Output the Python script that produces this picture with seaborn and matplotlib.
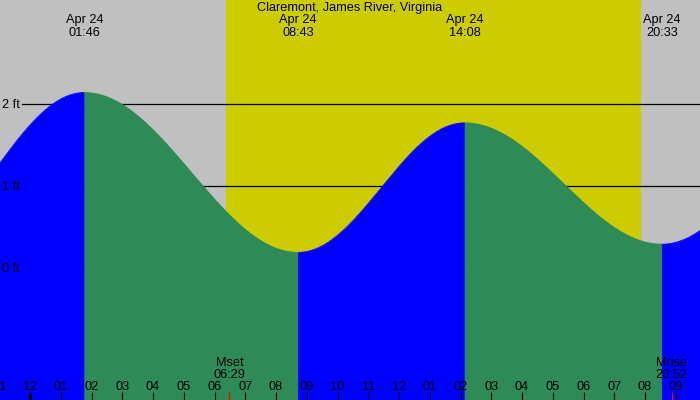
import numpy as np
import pandas as pd
import matplotlib
matplotlib.use("Agg")
import matplotlib.pyplot as plt
import seaborn as sns
from matplotlib.transforms import blended_transform_factory, offset_copy

# ---------------- data ----------------
title = "Claremont, James River, Virginia"
# tide extremes, hours relative to Apr 24 00:00 (first/last are off-chart neighbours)
tide_times = [-4.17, 1.767, 8.717, 14.133, 20.55, 26.5]
tide_heights = [0.19, 2.14, 0.19, 1.77, 0.29, 1.90]
tide_labels = ["", "Apr 24\n01:46", "Apr 24\n08:43", "Apr 24\n14:08", "Apr 24\n20:33", ""]
sunrise = 6.37
sunset = 19.87
moon_names = ["Mset", "Mrise"]
moon_clock = ["06:29", "20:52"]
moon_times = [6.483, 20.867]
hour_ticks = list(range(-1, 22))
hour_labels = ["11", "12", "01", "02", "03", "04", "05", "06", "07", "08", "09", "10",
               "11", "12", "01", "02", "03", "04", "05", "06", "07", "08", "09"]
ft_levels = [0, 1, 2]
ft_labels = ["0 ft", "1 ft", "2 ft"]

# ---------------- style ----------------
GRAY = "#C0C0C0"
YELLOW = "#CCCC00"
BLUE = "#0000FF"
GREEN = "#2E8B57"
FONT = "Liberation Sans"
FS = 9.2

XMIN, XMAX = -30 / 30.75, 670 / 30.75
YMIN, YMAX = -132 / 82, 268 / 82

fig = plt.figure(figsize=(7, 4), dpi=100)
fig.patch.set_facecolor(GRAY)
ax = fig.add_axes([0, 0, 1, 1])
ax.set_facecolor(GRAY)
for s in ax.spines.values():
    s.set_visible(False)
ax.set_xticks([])
ax.set_yticks([])
ax.set_xlim(XMIN, XMAX)
ax.set_ylim(YMIN, YMAX)

# daylight band
ax.axvspan(sunrise, sunset, color=YELLOW, lw=0, zorder=0)

# level lines
for lv in ft_levels:
    ax.plot([(22 - 30) / 30.75, XMAX], [lv, lv], color="black", lw=0.9, zorder=1)

# tide curve (cosine between successive extremes)
rows = []
for i in range(len(tide_times) - 1):
    t0, t1 = tide_times[i], tide_times[i + 1]
    h0, h1 = tide_heights[i], tide_heights[i + 1]
    t = np.linspace(t0, t1, 300)
    h = (h0 + h1) / 2 + (h0 - h1) / 2 * np.cos(np.pi * (t - t0) / (t1 - t0))
    phase = "rising" if h1 > h0 else "falling"
    col = BLUE if phase == "rising" else GREEN
    ax.fill_between(t, YMIN - 1, h, facecolor=col, edgecolor=col,
                    lw=0.6, zorder=2)
    rows.append(pd.DataFrame({"t": t, "h": h, "phase": phase, "seg": i}))
df = pd.concat(rows, ignore_index=True)
sns.lineplot(data=df, x="t", y="h", hue="phase", units="seg", estimator=None,
             palette={"rising": BLUE, "falling": GREEN}, lw=0.6, legend=False,
             ax=ax, zorder=2.5)
ax.set_xlabel("")
ax.set_ylabel("")
ax.set_xlim(XMIN, XMAX)
ax.set_ylim(YMIN, YMAX)

# level labels
ftrans = blended_transform_factory(fig.transFigure, ax.transData)
for lv, lab in zip(ft_levels, ft_labels):
    ax.text(2 / 700, lv, lab, transform=offset_copy(ftrans, fig=fig, y=-1.5, units="dots"),
            ha="left", va="center", fontsize=FS, family=FONT, zorder=3)

# top labels
btrans = blended_transform_factory(ax.transData, ax.transAxes)
ax.text(0.5, 1 - 8 / 400, title, transform=ax.transAxes, ha="center",
        va="center", fontsize=FS, family=FONT, zorder=5)
for tt, lab in zip(tide_times, tide_labels):
    if not lab:
        continue
    l1, l2 = lab.split("\n")
    ax.text(tt, 1 - 20.5 / 400, l1, transform=btrans, ha="center", va="center",
            fontsize=FS, family=FONT, zorder=5)
    ax.text(tt, 1 - 32.5 / 400, l2, transform=btrans, ha="center", va="center",
            fontsize=FS, family=FONT, zorder=5)

# hour ticks and labels
for hr, lab in zip(hour_ticks, hour_labels):
    ax.plot([hr, hr], [0, 8 / 400], transform=btrans, color="black",
            lw=2.2 if hr == 0 else 0.8, solid_capstyle="butt", zorder=4)
    ax.text(hr, 13.5 / 400, lab, transform=btrans, ha="center", va="center",
            fontsize=FS, family=FONT, zorder=5)

# moon events
for name, clk, mt in zip(moon_names, moon_clock, moon_times):
    ax.plot([mt, mt], [0, 8 / 400], transform=btrans, color="red", lw=0.9,
            solid_capstyle="butt", zorder=4)
    ax.text(mt, 1 - 362.5 / 400, name, transform=btrans, ha="center",
            va="center", fontsize=FS, family=FONT, zorder=5)
    ax.text(mt, 1 - 374.5 / 400, clk, transform=btrans, ha="center",
            va="center", fontsize=FS, family=FONT, zorder=5)

fig.savefig("out.png", dpi=100, facecolor=GRAY)
